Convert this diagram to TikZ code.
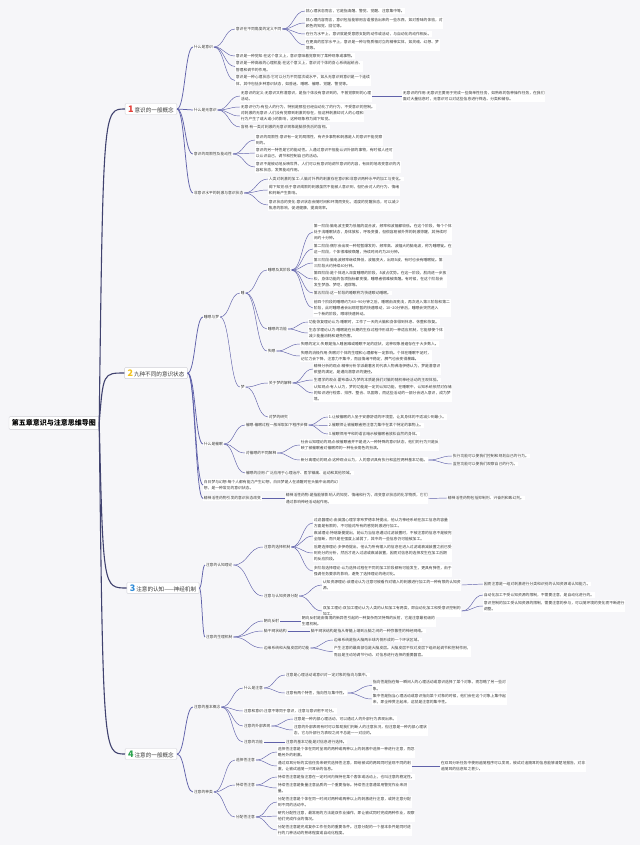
\documentclass[tikz,border=0pt]{standalone}
\usepackage{fontspec}
\setmainfont{Noto Sans CJK SC}
\usetikzlibrary{calc}
\definecolor{bg}{HTML}{F6F6F9}
\definecolor{lc}{HTML}{6062AA}
\definecolor{lcd}{HTML}{40426F}
\definecolor{txt}{HTML}{3A3A3A}
\definecolor{boxb}{HTML}{CFCFD6}
\definecolor{cA}{HTML}{E5403A}
\definecolor{cB}{HTML}{F2C21B}
\definecolor{cC}{HTML}{2E8BD8}
\definecolor{cD}{HTML}{2BA34E}
\newcommand\mnode[4]{\node[lf] (#1) at (#2,#3) {#4};}
\newcommand\medge[2]{\draw[ln] let \p1=(#1.east), \p2=(#2.west) in (\p1) .. controls ({0.5*\x1+0.5*\x2},\y1) and ({0.5*\x1+0.5*\x2},\y2) .. (\p2);}
\newcommand\bedge[2]{\draw[lnb] let \p1=(#1.east), \p2=(#2.west) in (\p1) .. controls ({0.5*\x1+0.5*\x2},\y1) and ({0.5*\x1+0.5*\x2},\y2) .. (\p2);}
\newcommand\redge[2]{\draw[lnr] let \p1=(#1.east), \p2=(#2.west) in (\p1) .. controls ({\x1+4pt},\y2) .. (\p2);}
\begin{document}
\begin{tikzpicture}[x=1pt,y=-1pt,
  lf/.style={font=\fontsize{3.8}{6.2}\selectfont, anchor=west, align=left, inner sep=0.7pt, fill=white, text=txt},
  ln/.style={draw=lc, line width=0.45pt},
  lnb/.style={draw=lc, line width=0.75pt},
  lnr/.style={draw=lcd, line width=1.1pt},
  mainbox/.style={draw=boxb, fill=white, rounded corners=1pt, inner xsep=3pt, inner ysep=2pt, font=\fontsize{5.6}{6}\selectfont, text=txt},
  rootbox/.style={draw=boxb, fill=white, rounded corners=1pt, inner xsep=3pt, inner ysep=3pt, font=\fontsize{7}{8}\selectfont\bfseries, text=black}]
\useasboundingbox (0,0) rectangle (640,845);
\fill[bg] (0,0) rectangle (640,845);

% root and main branches
\node[rootbox] (root) at (54,423) {第五章意识与注意思维导图};
\node[mainbox] (b1) at (151,109) {\textcolor{cA}{\fontsize{9}{9}\selectfont\bfseries 1}\,意识的一般概念};
\node[mainbox] (b2) at (156,373) {\textcolor{cB}{\fontsize{9}{9}\selectfont\bfseries 2}\,九种不同的意识状态};
\node[mainbox] (b3) at (163,588) {\textcolor{cC}{\fontsize{9}{9}\selectfont\bfseries 3}\,注意的认知——神经机制};
\node[mainbox] (b4) at (151,754) {\textcolor{cD}{\fontsize{9}{9}\selectfont\bfseries 4}\,注意的一般概念};
\redge{root}{b1}\redge{root}{b2}\redge{root}{b3}\redge{root}{b4}

% ---------- branch 1
\mnode{a1}{193}{47}{什么是意识}
\mnode{a1a}{235}{29}{意识在不同角度的定义不同}
\mnode{a1a1}{305}{11}{就心理状态而言，它是指清醒、警觉、觉醒、注意集中等。}
\mnode{a1a2}{305}{23}{就心理内容而言，意识包括能够用言语报告出来的一些东西，如对香味的体验，对\\颜色的知觉、回忆等。}
\mnode{a1a3}{305}{34}{在行为水平上，意识就是受意愿支配的动作或活动，与自动化的动作相反。}
\mnode{a1a4}{305}{45}{在更高的哲学水平上，意识是一种与物质相对立的精神实体，如灵魂、幻想、梦\\境等。}
\mnode{a1b}{235}{56}{意识是一种觉知:在这个意义上，意识意味着觉察到了某种现象或事物。}
\mnode{a1c}{235}{66.5}{意识是一种高级的心理机能:在这个意义上，意识对个体的身心系统起统合、\\管理和调节的作用。}
\mnode{a1d}{235}{80.5}{意识是一种心理状态:它可以分为不同层次或水平，如从无意识到意识是一个连续\\体，其中包括多种意识状态，如昏迷、睡眠、催眠、觉醒、警觉等。}
\mnode{a2}{193}{110}{什么是无意识}
\mnode{a2a}{240}{96}{无意识的定义:无意识又称潜意识，是指个体没有意识到的，不曾觉察到的心理\\活动。}
\mnode{a2a1}{402}{96}{无意识的作用:无意识主要用于完成一些简单性任务，如熟练的各种操作任务，在我们\\面对大量信息时，无意识可以对这些信息进行筛选、分类和储存。}
\mnode{a2b}{240}{107}{无意识行为:有些人的行为，特别是那些已经自动化了的行为，不受意识的控制。}
\mnode{a2c}{240}{116}{对刺激的无意识:人们没有觉察到刺激的存在，但这种刺激却对人的心理和\\行为产生了或大或小的影响，这种现象称为阈下知觉。}
\mnode{a2d}{240}{127}{盲视:有一类对刺激的无意识现象是脑损伤后的盲视。}
\mnode{a3}{193}{154}{意识的局限性及能动性}
\mnode{a3a}{255}{140}{意识的局限性:意识有一定的局限性，有许多事物和刺激是人的意识不能觉察\\到的。}
\mnode{a3b}{255}{153}{意识的另一特性是它的能动性。人通过意识不但能认识外部的事物，有时候人还可\\以认识自己，调节和控制自己的活动。}
\mnode{a3c}{255}{167}{意识不是被动地反映世界，人们可以有意识地调节意识的内容，有目的地改变意识的内\\容和状态，发挥能动作用。}
\mnode{a4}{193}{193}{非意识水平的刺激与意识状态}
\mnode{a4a}{268}{179}{人类对刺激的加工:人脑对外界的刺激存在意识和非意识两种水平的加工与变化。}
\mnode{a4b}{268}{190}{阈下知觉:低于意识阈限的刺激虽然不能被人意识到，但仍会对人的行为、情绪\\和判断产生影响。}
\mnode{a4c}{268}{205}{意识状态的变化:意识状态会随时间和环境而变化，适度的觉醒状态，可以减少\\焦虑的影响，促进健康，提高效率。}
\bedge{b1}{a1}\bedge{b1}{a2}\bedge{b1}{a3}\bedge{b1}{a4}
\medge{a1}{a1a}\medge{a1}{a1b}\medge{a1}{a1c}\medge{a1}{a1d}
\medge{a1a}{a1a1}\medge{a1a}{a1a2}\medge{a1a}{a1a3}\medge{a1a}{a1a4}
\medge{a2}{a2a}\medge{a2}{a2b}\medge{a2}{a2c}\medge{a2}{a2d}\medge{a2a}{a2a1}
\medge{a3}{a3a}\medge{a3}{a3b}\medge{a3}{a3c}
\medge{a4}{a4a}\medge{a4}{a4b}\medge{a4}{a4c}

% ---------- branch 2
\mnode{c1}{203}{317}{睡眠与梦}
\mnode{sl}{240}{293}{睡}
\mnode{dr}{240}{387}{梦}
\mnode{s1}{267}{270}{睡眠及其阶段}
\mnode{s1a}{313}{232}{第一阶段:脑电波主要为低幅的混合波，频率和波幅都较低。在这个阶段，每个个体\\处于浅睡眠状态，身体放松，呼吸变慢，但很容易被外界的刺激惊醒，其持续时\\间约十分钟。}
\mnode{s1b}{313}{249}{第二阶段:偶尔会出现一种短暂爆发的、频率高、波幅大的脑电波，称为睡眠锭。在\\这一阶段，个体很难被唤醒，持续时间约为20分钟。}
\mnode{s1c}{313}{263}{第三阶段:脑电波频率继续降低，波幅变大，出现δ波，有时也会有睡眠锭。第\\三阶段大约持续40分钟。}
\mnode{s1d}{313}{279}{第四阶段:是个体进入深度睡眠的阶段，δ波占优势。在这一阶段，肌肉进一步放\\松，身体功能的各项指标都变慢，睡眠者很难被唤醒。有时候，在这个阶段会\\发生梦游、梦呓、遗尿等。}
\mnode{s1e}{313}{293}{第五阶段:这一阶段的睡眠称为快速眼动睡眠。}
\mnode{s1f}{313}{308}{前四个阶段的睡眠约为60\textasciitilde 90分钟之后，睡眠由深变浅，再次进入第三阶段和第二\\阶段，此时睡眠者会出现短暂的快速眼动，10\textasciitilde 20分钟后，睡眠会突然进入\\一个新的阶段，眼球快速转动。}
\mnode{s2}{267}{329}{睡眠的功能}
\mnode{s2a}{308}{322}{功能恢复理论认为:睡眠时，工作了一天的大脑和身体得到休息、休整和恢复。}
\mnode{s2b}{308}{333}{生态学理论认为:睡眠是在长期的生存过程中形成的一种适应机制，它能够使个体\\减少能量消耗和避免伤害。}
\mnode{s3}{267}{351}{失眠}
\mnode{s3a}{300}{344}{失眠的定义:失眠是指入睡困难或睡眠不足的症状，这种现象普遍存在于大多数人。}
\mnode{s3b}{300}{356}{失眠的消极作用:失眠对个体的生理和心理都有一定影响。个体在睡眠不足时，\\记忆力会下降，注意力不集中，而且情绪不稳定，脾气也会变得暴躁。}
\mnode{m1}{268}{383}{关于梦的解释}
\mnode{m1a}{313}{369}{精神分析的观点:精神分析学派最著名的代表人物弗洛伊德认为，梦是潜意识\\欲望的满足，是通向潜意识的捷径。}
\mnode{m1b}{313}{380}{生理学的观点:霍布森认为梦的本质是我们对脑的随机神经活动的主观体验。}
\mnode{m1c}{313}{393}{认知观点:有人认为，梦的功能是一定的认知功能，在睡眠中，认知系统依然对存储\\的知识进行检索、排序、整合、巩固等，而这些活动的一部分会进入意识，成为梦\\境。}
\mnode{m2}{268}{417}{对梦的研究}
\mnode{c2}{203}{444}{什么是催眠}
\mnode{h1}{245}{425}{催眠:催眠过程一般采取如下程序步骤}
\mnode{h1a}{328}{417}{1.让被催眠的人坐于安静舒适的环境里，让其身体的不适减少到最小。}
\mnode{h1b}{328}{425.5}{2.催眠师让被催眠者把注意力集中在某个特定的事物上。}
\mnode{h1c}{328}{434}{3.催眠师用平和的语言暗示被催眠者放松自然的身体。}
\mnode{h2}{245}{453}{对催眠的不同解释}
\mnode{h2a}{300}{445}{社会认知理论的观点:被催眠者并不是进入一种特殊的意识状态，他们的行为只是反\\映了被催眠者对催眠师的一种社会角色的扮演。}
\mnode{h2b}{300}{460}{新分离理论的观点:这种观点认为，人的意识具有执行和监控两种基本功能。}
\mnode{h2b1}{452}{456}{执行功能可以使我们控制和规划自己的行为。}
\mnode{h2b2}{452}{464}{监控功能可以使我们观察自己的行为。}
\mnode{h3}{245}{473}{催眠的应用:广泛应用于心理治疗、医学镇痛、运动和其他领域。}
\mnode{c3}{203}{485}{白日梦与幻想:每个人都有能力产生幻想，白日梦是人在清醒时在头脑中出现的幻\\想，是一种常见的意识状态。}
\mnode{c4}{203}{498.5}{精神活性药物引发的意识状态改变}
\mnode{c4a}{285}{498.5}{精神活性药物:是指能够影响人的知觉、情绪和行为，改变意识状态的化学物质，它们\\通过影响神经活动起作用。}
\mnode{c4a1}{447}{498}{精神活性药物包括抑制剂、兴奋剂和致幻剂。}
\bedge{b2}{c1}\bedge{b2}{c2}\bedge{b2}{c3}\bedge{b2}{c4}
\medge{c1}{sl}\medge{c1}{dr}
\medge{sl}{s1}\medge{sl}{s2}\medge{sl}{s3}
\medge{s1}{s1a}\medge{s1}{s1b}\medge{s1}{s1c}\medge{s1}{s1d}\medge{s1}{s1e}\medge{s1}{s1f}
\medge{s2}{s2a}\medge{s2}{s2b}\medge{s3}{s3a}\medge{s3}{s3b}
\medge{dr}{m1}\medge{dr}{m2}
\medge{m1}{m1a}\medge{m1}{m1b}\medge{m1}{m1c}
\medge{c2}{h1}\medge{c2}{h2}\medge{c2}{h3}
\medge{h1}{h1a}\medge{h1}{h1b}\medge{h1}{h1c}
\medge{h2}{h2a}\medge{h2}{h2b}\medge{h2b}{h2b1}\medge{h2b}{h2b2}
\medge{c4}{c4a}\medge{c4a}{c4a1}

% ---------- branch 3
\mnode{d1}{205}{565}{注意的认知理论}
\mnode{d1a}{263}{547}{注意的选择机制}
\mnode{e1}{313}{523}{过滤器理论:由英国心理学家布罗德本特提出，他认为神经系统在加工信息的容量\\方面是有限的，不可能对所有的感觉刺激进行加工。}
\mnode{e2}{313}{536}{衰减理论:特瑞斯曼提出，她认为当信息通过过滤装置时，不被注意的信息不是被完\\全阻断，而只是在强度上减弱了，其中的一些信息仍可能被加工。}
\mnode{e3}{313}{553}{后期选择理论:多伊奇提出，他认为所有输入的信息在进入过滤或衰减装置之前已受\\到充分的分析，然后才进入过滤或衰减装置，因而对信息的选择发生在加工后期\\的反应阶段。}
\mnode{e4}{313}{571}{多阶段选择理论:认为选择过程在不同的加工阶段都有可能发生，更具有弹性，由于\\强调任务要求的影响，避免了选择理论的绝对化。}
\mnode{d1b}{263}{596}{注意与认知资源分配}
\mnode{f1}{322}{585}{认知资源理论:该理论认为注意可被看作对输入的刺激进行加工的一种有限的认知资\\源。}
\mnode{f1a}{483}{584}{因而注意是一组对刺激进行分类和识别的认知资源或认知能力。}
\mnode{f2}{322}{611}{双加工理论:双加工理论认为人类的认知加工有两类，即自动化加工和受意识控制的\\加工。}
\mnode{f2a}{483}{595}{自动化加工不受认知资源的限制，不需要注意，是自动化进行的。}
\mnode{f2b}{483}{606}{意识控制的加工受认知资源的限制，需要注意的参与，可以随环境的变化而不断进行\\调整。}
\mnode{d2}{205}{637}{注意的生理机制}
\mnode{g1}{263}{621}{朝向反射}
\mnode{g1a}{301}{621}{朝向反射是由情境的新异性引起的一种复杂而又特殊的反射，它是注意最初级的\\生理机制。}
\mnode{g2}{263}{631}{脑干网状结构}
\mnode{g2a}{310}{631}{脑干网状结构是指从脊髓上端到丘脑之间的一种弥散性的神经网络。}
\mnode{g3}{263}{648}{边缘系统和大脑皮层的功能}
\mnode{g3a}{333}{640}{边缘系统是指大脑两半球内侧形成的一个环状区域。}
\mnode{g3b}{333}{651.5}{产生注意的最高部位是大脑皮层。大脑皮层不仅对皮层下组织起调节和控制作用，\\而且是主动地调节行动、对信息进行选择的重要器官。}
\bedge{b3}{d1}\bedge{b3}{d2}
\medge{d1}{d1a}\medge{d1}{d1b}
\medge{d1a}{e1}\medge{d1a}{e2}\medge{d1a}{e3}\medge{d1a}{e4}
\medge{d1b}{f1}\medge{d1b}{f2}\medge{f1}{f1a}\medge{f2}{f2a}\medge{f2}{f2b}
\medge{d2}{g1}\medge{d2}{g2}\medge{d2}{g3}
\medge{g1}{g1a}\medge{g2}{g2a}\medge{g3}{g3a}\medge{g3}{g3b}

% ---------- branch 4
\mnode{n1}{193}{707}{注意的基本概念}
\mnode{p1}{243}{688}{什么是注意}
\mnode{p1a}{285}{675}{注意是心理活动或意识对一定对象的指向与集中。}
\mnode{p1b}{285}{693}{注意有两个特性，指向性与集中性。}
\mnode{p1b1}{372}{685.5}{指向性是指在每一瞬间人的心理活动或意识选择了某个对象，而忽略了另一些对\\象。}
\mnode{p1b2}{372}{699}{集中性是指当心理活动或意识指向某个对象的时候，他们会在这个对象上集中起\\来，即全神贯注起来，这就是注意的集中性。}
\mnode{p2}{243}{711}{注意和意识:注意不等同于意识，注意与意识密不可分。}
\mnode{p3}{243}{726}{注意的外部表现}
\mnode{p3a}{293}{719}{注意是一种内部心理活动，可以通过人的外部行为表现出来。}
\mnode{p3b}{293}{730}{注意的外部表现有时可以帮助我们判断人的注意状况，但注意是一种内部心理状\\态，它与外部行为表现之间不总是一一对应的。}
\mnode{p4}{243}{742}{注意的功能}
\mnode{p4a}{285}{742}{注意的基本功能是对信息进行选择。}
\mnode{n2}{193}{792}{注意的种类}
\mnode{q1}{235}{760}{选择性注意}
\mnode{q1a}{277}{752}{选择性注意是个体在同时呈现的两种或两种以上的刺激中选择一种进行注意，而忽\\略另外的刺激。}
\mnode{q1b}{277}{766}{通过双耳分听的实验任务来研究选择性注意，即给被试的两耳同时呈现不同的刺\\激，让被试追随一只耳朵的信息。}
\mnode{q1b1}{440}{766}{在双耳分听任务中使用追随程序可以发现，被试对追随耳的信息能够清楚地报告，对非\\追随耳的信息知之甚少。}
\mnode{q2}{235}{785}{持续性注意}
\mnode{q2a}{277}{777}{持续性注意是指注意在一定时间内保持在某个客体或活动上，也叫注意的稳定性。}
\mnode{q2b}{277}{788}{持续性注意是衡量注意品质的一个重要指标。持续性注意通常用警觉作业来测\\量。}
\mnode{q3}{235}{817}{分配性注意}
\mnode{q3a}{277}{802}{分配性注意是个体在同一时间对两种或两种以上的刺激进行注意，或将注意分配\\到不同的活动中。}
\mnode{q3b}{277}{816}{研究分配性注意，最常用的方法是双作业操作，即让被试同时完成两种作业，观察\\他们完成作业的情况。}
\mnode{q3c}{277}{830}{分配性注意是完成复杂工作任务的重要条件。注意分配的一个基本条件是同时进\\行的几种活动的熟练程度或自动化程度。}
\bedge{b4}{n1}\bedge{b4}{n2}
\medge{n1}{p1}\medge{n1}{p2}\medge{n1}{p3}\medge{n1}{p4}
\medge{p1}{p1a}\medge{p1}{p1b}\medge{p1b}{p1b1}\medge{p1b}{p1b2}
\medge{p3}{p3a}\medge{p3}{p3b}\medge{p4}{p4a}
\medge{n2}{q1}\medge{n2}{q2}\medge{n2}{q3}
\medge{q1}{q1a}\medge{q1}{q1b}\medge{q1b}{q1b1}
\medge{q2}{q2a}\medge{q2}{q2b}
\medge{q3}{q3a}\medge{q3}{q3b}\medge{q3}{q3c}
\end{tikzpicture}
\end{document}
